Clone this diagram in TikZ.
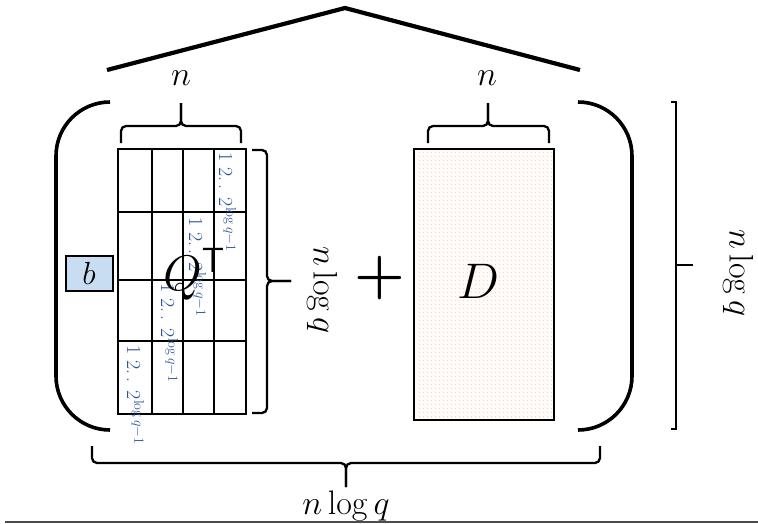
\RequirePackage{fix-cm}
\documentclass[tikz,border=0pt]{standalone}
\usetikzlibrary{patterns.meta}
\definecolor{bluetxt}{RGB}{47,85,151}
\definecolor{bfill}{RGB}{200,221,241}
\definecolor{dfill}{RGB}{254,251,249}
\definecolor{dotc}{RGB}{244,200,178}
\begin{document}
\begin{tikzpicture}[x=1pt,y=-1pt,
  thickline/.style={line width=4.2pt},
  paren/.style={line width=3.6pt, rounded corners=54pt},
  bracepath/.style={line width=2.3pt, rounded corners=5pt},
  boxline/.style={line width=2.4pt},
  gridline/.style={line width=1.1pt},
  lbl/.style={inner sep=0pt, font=\fontsize{34}{40}\selectfont},
  biglbl/.style={inner sep=0pt, font=\fontsize{50}{56}\selectfont},
  bluelbl/.style={inner sep=0pt, anchor=base west, rotate=-90, text=bluetxt, font=\fontsize{20}{24}\selectfont}]
\useasboundingbox (0,0) rectangle (758,523);

% roof
\draw[thickline] (107,70) -- (345,8) -- (580,70);
\node[lbl] (n1) at (181,78) {$n$};
\node[lbl] (n2) at (487,78) {$n$};

% parentheses
\draw[paren] (110,102) -- (56,102) -- (56,430) -- (110,430);
\draw[paren] (578,102) -- (632,102) -- (632,430) -- (578,430);

% brace above Q
\draw[bracepath] (121,143) -- (121,126) -- (181,126) -- (181,103);
\draw[bracepath] (241,143) -- (241,126) -- (181,126) -- (181,103);
% brace above D
\draw[bracepath] (428,143) -- (428,126) -- (488,126) -- (488,103);
\draw[bracepath] (549,143) -- (549,126) -- (488,126) -- (488,103);

% Q matrix
\draw[boxline] (118,149) rectangle (246,414);
\foreach \x in {152,183,214} \draw[gridline] (\x,149) -- (\x,414);
\foreach \y in {212,280,341} \draw[gridline] (118,\y) -- (246,\y);
\node[bluelbl] (c4) at (219,152) {1 2.\,. 2$^{\log q-1}$};
\node[bluelbl] (c3) at (189,217) {1 2.\,. 2$^{\log q-1}$};
\node[bluelbl] (c2) at (161,283) {1 2.\,. 2$^{\log q-1}$};
\node[bluelbl] (c1) at (127,345) {1 2.\,. 2$^{\log q-1}$};
\node[biglbl] (Q) at (194,274) {$Q^{\mathsf{T}}$};

% brace right of Q
\draw[bracepath] (252,150) -- (267,150) -- (267,281) -- (291,281);
\draw[bracepath] (252,413) -- (267,413) -- (267,281) -- (291,281);
\node[lbl, rotate=-90] (nlq1) at (322,290) {$n\log q$};

% plus
\node[inner sep=0pt, font=\fontsize{58}{60}\selectfont\boldmath] (plus) at (380,278) {$+$};

% D matrix
\draw[boxline, fill=dfill] (414,149) rectangle (554,420);
\fill[pattern={Dots[distance=4pt, radius=0.6pt]}, pattern color=dotc] (416,151) rectangle (552,418);
\node[biglbl] (D) at (478,281) {$D$};

% b vector
\node[draw, line width=2pt, fill=bfill, minimum width=47pt, minimum height=35pt,
      inner sep=0pt, font=\fontsize{32}{36}\selectfont] (b) at (89,273.5) {$b$};

% right bracket
\draw[line width=1.7pt] (671,102) -- (676,102) -- (676,429) -- (671,429);
\draw[line width=1.7pt] (676,265) -- (693,265);
\node[lbl, rotate=-90] (nlq2) at (738,273) {$n\log q$};

% bottom brace
\draw[bracepath] (92,446) -- (92,463) -- (346,463) -- (346,487);
\draw[bracepath] (600,446) -- (600,463) -- (346,463) -- (346,487);
\node[lbl] (nlq3) at (346,506) {$n\log q$};

% bottom rule
\draw[black!70, line width=1.3pt] (5,522) -- (758,522);
\end{tikzpicture}
\end{document}
